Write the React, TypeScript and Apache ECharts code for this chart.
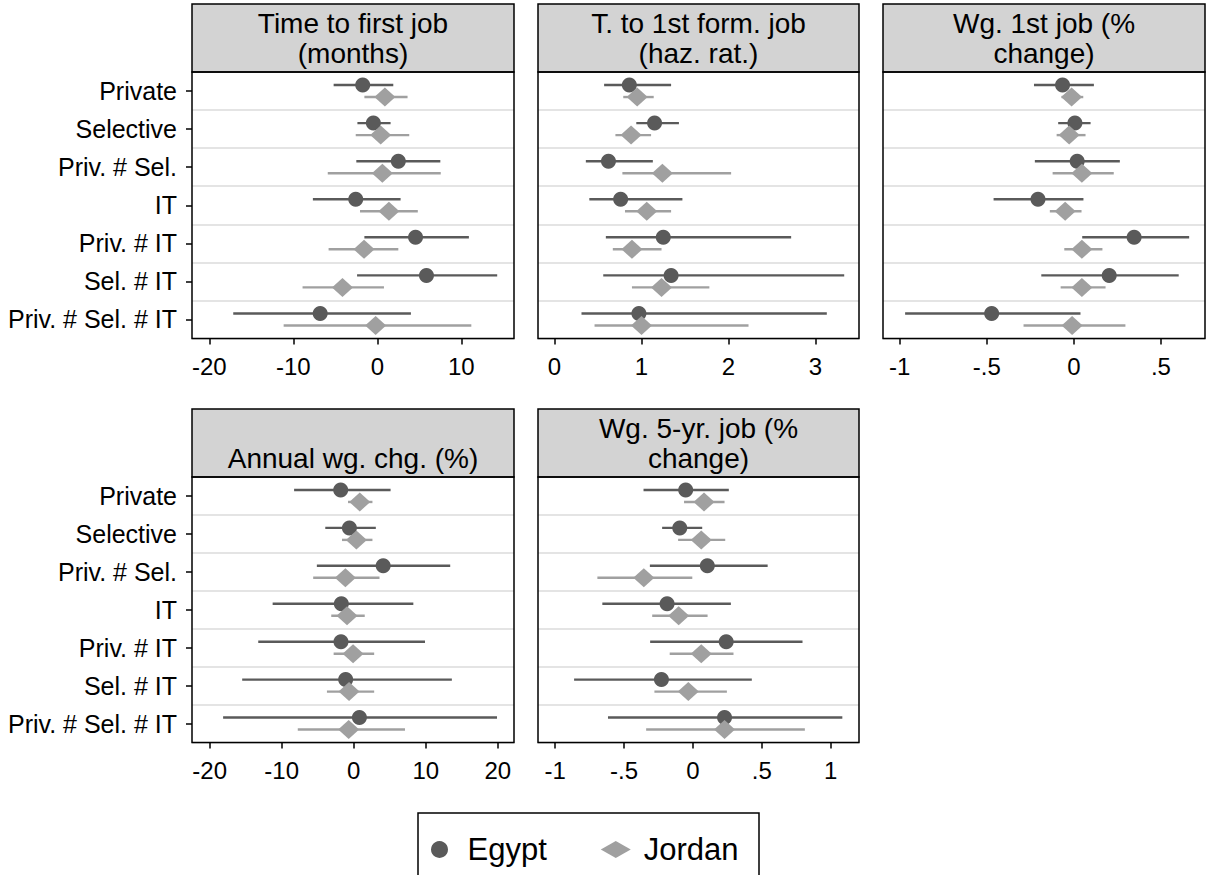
import React, { useEffect, useRef } from "react";
import * as echarts from "echarts";

const categories = ["Private", "Selective", "Priv. # Sel.", "IT", "Priv. # IT", "Sel. # IT", "Priv. # Sel. # IT"];
const seriesNames = ["Egypt", "Jordan"];
const panelTitles = [
  "Time to first job\n(months)",
  "T. to 1st form. job\n(haz. rat.)",
  "Wg. 1st job (%\nchange)",
  "Annual wg. chg. (%)",
  "Wg. 5-yr. job (%\nchange)",
];

// Panel 1: Time to first job (months)
const p1EgyptEst = [-1.74, -0.47, 2.5, -2.57, 4.55, 5.85, -6.8];
const p1EgyptLo = [-5.2, -2.37, -2.5, -7.67, -1.54, -2.41, -17.15];
const p1EgyptHi = [1.9, 1.58, 7.5, 2.77, 10.9, 14.27, 4.0];
const p1JordanEst = [0.9, 0.4, 0.6, 1.38, -1.58, -4.15, -0.2];
const p1JordanLo = [-1.54, -2.57, -5.9, -2.06, -5.8, -8.9, -11.15];
const p1JordanHi = [3.6, 3.8, 7.55, 4.82, 2.5, 0.79, 11.19];

// Panel 2: T. to 1st form. job (haz. rat.)
const p2EgyptEst = [0.86, 1.15, 0.62, 0.76, 1.25, 1.34, 0.97];
const p2EgyptLo = [0.57, 0.94, 0.36, 0.4, 0.59, 0.56, 0.31];
const p2EgyptHi = [1.34, 1.43, 1.13, 1.47, 2.72, 3.33, 3.13];
const p2JordanEst = [0.95, 0.88, 1.24, 1.06, 0.89, 1.23, 1.0];
const p2JordanLo = [0.79, 0.7, 0.78, 0.81, 0.67, 0.89, 0.46];
const p2JordanHi = [1.14, 1.11, 2.03, 1.34, 1.23, 1.78, 2.23];

// Panel 3: Wg. 1st job (% change)
const p3EgyptEst = [-0.065, 0.006, 0.019, -0.206, 0.346, 0.203, -0.472];
const p3EgyptLo = [-0.229, -0.09, -0.224, -0.461, 0.048, -0.187, -0.969];
const p3EgyptHi = [0.115, 0.096, 0.264, 0.055, 0.662, 0.602, 0.038];
const p3JordanEst = [-0.013, -0.027, 0.046, -0.05, 0.046, 0.046, -0.01];
const p3JordanLo = [-0.071, -0.099, -0.122, -0.138, -0.055, -0.076, -0.289];
const p3JordanHi = [0.054, 0.067, 0.229, 0.044, 0.164, 0.182, 0.296];

// Panel 4: Annual wg. chg. (%)
const p4EgyptEst = [-1.81, -0.6, 4.09, -1.72, -1.77, -1.12, 0.79];
const p4EgyptLo = [-8.28, -3.95, -5.12, -11.26, -13.26, -15.49, -18.14];
const p4EgyptHi = [5.12, 3.07, 13.4, 8.28, 9.9, 13.63, 19.9];
const p4JordanEst = [0.84, 0.37, -1.16, -0.93, -0.09, -0.65, -0.7];
const p4JordanLo = [-0.79, -1.63, -5.63, -3.12, -2.79, -3.72, -7.77];
const p4JordanHi = [2.6, 2.6, 3.58, 1.53, 2.84, 2.84, 7.12];

// Panel 5: Wg. 5-yr. job (% change)
const p5EgyptEst = [-0.053, -0.096, 0.104, -0.188, 0.241, -0.229, 0.229];
const p5EgyptLo = [-0.359, -0.224, -0.313, -0.658, -0.311, -0.863, -0.617];
const p5EgyptHi = [0.26, 0.067, 0.542, 0.275, 0.795, 0.427, 1.084];
const p5JordanEst = [0.08, 0.06, -0.357, -0.104, 0.06, -0.034, 0.229];
const p5JordanLo = [-0.065, -0.108, -0.694, -0.296, -0.169, -0.28, -0.34];
const p5JordanHi = [0.229, 0.234, -0.005, 0.106, 0.294, 0.246, 0.812];

// Axis ticks and ranges
const p1Ticks = [-20, -10, 0, 10];
const p2Ticks = [0, 1, 2, 3];
const p3Ticks = [-1, -0.5, 0, 0.5];
const p4Ticks = [-20, -10, 0, 10, 20];
const p5Ticks = [-1, -0.5, 0, 0.5, 1];
const axisMin = [-22.06, -0.19, -1.096, -22.46, -1.125];
const axisMax = [16.27, 3.5, 0.753, 22.26, 1.205];

const FONT = '"Liberation Sans", Arial, Helvetica, sans-serif';
const EGYPT_COLOR = "#5a5a5a";
const JORDAN_COLOR = "#a0a0a0";

export default function App() {
  const ref = useRef<HTMLDivElement>(null);

  useEffect(() => {
    if (!ref.current) return;
    const chart = echarts.init(ref.current, null, { renderer: "svg" });

    const panels = [
      { eg: [p1EgyptEst, p1EgyptLo, p1EgyptHi], jo: [p1JordanEst, p1JordanLo, p1JordanHi], ticks: p1Ticks },
      { eg: [p2EgyptEst, p2EgyptLo, p2EgyptHi], jo: [p2JordanEst, p2JordanLo, p2JordanHi], ticks: p2Ticks },
      { eg: [p3EgyptEst, p3EgyptLo, p3EgyptHi], jo: [p3JordanEst, p3JordanLo, p3JordanHi], ticks: p3Ticks },
      { eg: [p4EgyptEst, p4EgyptLo, p4EgyptHi], jo: [p4JordanEst, p4JordanLo, p4JordanHi], ticks: p4Ticks },
      { eg: [p5EgyptEst, p5EgyptLo, p5EgyptHi], jo: [p5JordanEst, p5JordanLo, p5JordanHi], ticks: p5Ticks },
    ];

    const layout = [
      { left: 192, top: 72, width: 322, height: 266.5, headTop: 4 },
      { left: 538, top: 72, width: 321, height: 266.5, headTop: 4 },
      { left: 883, top: 72, width: 322, height: 266.5, headTop: 4 },
      { left: 192, top: 477, width: 322, height: 265.5, headTop: 409 },
      { left: 538, top: 477, width: 321, height: 265.5, headTop: 409 },
    ];

    const fmt = (v: number) => {
      let s = String(Math.round(v * 100) / 100);
      s = s.replace(/^0\./, ".").replace(/^-0\./, "-.");
      return s;
    };

    const grids = layout.map((l) => ({ left: l.left, top: l.top, width: l.width, height: l.height, show: false }));

    const xAxes = panels.map((p, i) => ({
      type: "value",
      gridIndex: i,
      min: axisMin[i],
      max: axisMax[i],
      axisLine: { show: false, onZero: false },
      splitLine: { show: false },
      axisTick: { show: true, length: 6, customValues: p.ticks, lineStyle: { color: "#000", width: 1.5 } },
      axisLabel: {
        customValues: p.ticks,
        formatter: fmt,
        fontSize: 24,
        fontFamily: FONT,
        color: "#000",
        margin: 16,
      },
    }));

    const yAxes = panels.map((p, i) => {
      const showLabels = i === 0 || i === 3;
      return {
        type: "category",
        gridIndex: i,
        data: categories,
        inverse: true,
        boundaryGap: true,
        axisLine: { show: false, onZero: false },
        axisTick: { show: showLabels, alignWithLabel: true, length: 6, lineStyle: { color: "#000", width: 1.5 } },
        axisLabel: { show: showLabels, fontSize: 25, fontFamily: FONT, color: "#000", margin: 15 },
        splitLine: { show: true, interval: 0, lineStyle: { color: "#e4e4e4", width: 2 } },
      };
    });

    const barSeries = (i: number, arr: number[][], name: string, color: string, off: number) => ({
      type: "custom",
      name: name + " CI",
      xAxisIndex: i,
      yAxisIndex: i,
      silent: true,
      encode: { x: [0, 1], y: 2 },
      data: arr[1].map((lo, k) => [lo, arr[2][k], k]),
      renderItem: (params: any, api: any) => {
        const a = api.coord([api.value(0), api.value(2)]);
        const b = api.coord([api.value(1), api.value(2)]);
        return {
          type: "line",
          shape: { x1: a[0], y1: a[1] + off, x2: b[0], y2: b[1] + off },
          style: { stroke: color, lineWidth: 2.4 },
        };
      },
    });

    const series: any[] = [];
    panels.forEach((p, i) => {
      series.push(barSeries(i, p.eg, "Egypt", EGYPT_COLOR, -6));
      series.push({
        type: "scatter",
        name: seriesNames[0],
        xAxisIndex: i,
        yAxisIndex: i,
        symbol: "circle",
        symbolSize: 15,
        symbolOffset: [0, -6],
        itemStyle: { color: EGYPT_COLOR, opacity: 1 },
        data: p.eg[0].map((v, k) => [v, k]),
      });
      series.push(barSeries(i, p.jo, "Jordan", JORDAN_COLOR, 6));
      series.push({
        type: "scatter",
        name: seriesNames[1],
        xAxisIndex: i,
        yAxisIndex: i,
        symbol: "diamond",
        symbolSize: [21, 19],
        symbolOffset: [0, 6],
        itemStyle: { color: JORDAN_COLOR, opacity: 1 },
        data: p.jo[0].map((v, k) => [v, k]),
      });
    });

    const graphics: any[] = [];
    layout.forEach((l, i) => {
      graphics.push({
        type: "rect",
        z: 100,
        shape: { x: l.left, y: l.headTop, width: l.width, height: l.top - l.headTop },
        style: { fill: "#d3d3d3", stroke: "#000", lineWidth: 1.5 },
      });
      const lines = panelTitles[i].split("\n");
      graphics.push({
        type: "text",
        z: 101,
        x: l.left + l.width / 2,
        y: l.headTop + 4 + (2 - lines.length) * 30,
        style: {
          text: panelTitles[i],
          font: "28px " + FONT,
          fill: "#000",
          align: "center",
          verticalAlign: "top",
          textAlign: "center",
          textVerticalAlign: "top",
          lineHeight: 30,
        },
      });
      graphics.push({
        type: "rect",
        z: 100,
        shape: { x: l.left, y: l.top, width: l.width, height: l.height },
        style: { fill: "none", stroke: "#000", lineWidth: 1.5 },
      });
    });
    graphics.push({
      type: "rect",
      z: 0,
      shape: { x: 418, y: 813, width: 341, height: 90 },
      style: { fill: "#fff", stroke: "#000", lineWidth: 1.5 },
    });

    chart.setOption({
      animation: false,
      backgroundColor: "#fff",
      grid: grids,
      xAxis: xAxes,
      yAxis: yAxes,
      series,
      graphic: { elements: graphics },
      legend: {
        data: [
          { name: seriesNames[0], icon: "circle" },
          { name: seriesNames[1], icon: "diamond" },
        ],
        left: 426,
        top: 829,
        orient: "horizontal",
        itemWidth: 30,
        itemHeight: 17,
        itemGap: 54,
        selectedMode: false,
        textStyle: { fontSize: 31, fontFamily: FONT, color: "#000", padding: [0, 0, 0, 8] },
        z: 10,
      },
    });

    return () => chart.dispose();
  }, []);

  return <div ref={ref} style={{ position: "absolute", left: 0, top: 0, width: 1207, height: 875 }} />;
}
